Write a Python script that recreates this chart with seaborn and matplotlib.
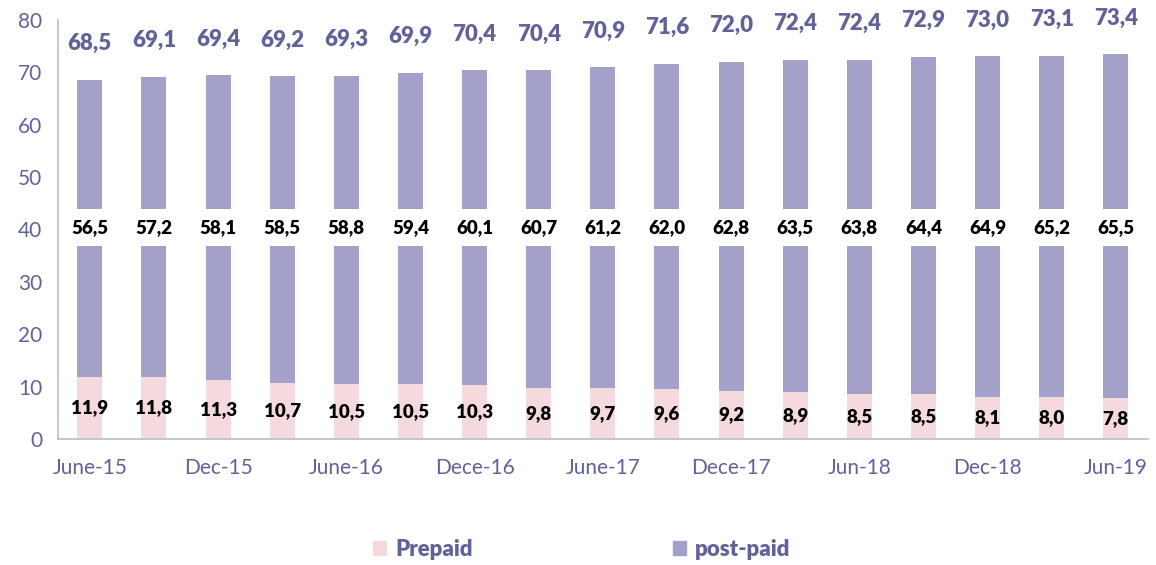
import seaborn as sns
import matplotlib.pyplot as plt
import matplotlib.patches as mpatches
from matplotlib.ticker import FixedLocator
import pandas as pd

periods = ["June-15", "Sep-15", "Dec-15", "Mar-16", "June-16", "Sep-16", "Dece-16", "Mar-17",
           "June-17", "Sep-17", "Dece-17", "Mar-18", "Jun-18", "Sep-18", "Dec-18", "Mar-19", "Jun-19"]
prepaid = [11.9, 11.8, 11.3, 10.7, 10.5, 10.5, 10.3, 9.8, 9.7, 9.6, 9.2, 8.9, 8.5, 8.5, 8.1, 8.0, 7.8]
postpaid = [56.5, 57.2, 58.1, 58.5, 58.8, 59.4, 60.1, 60.7, 61.2, 62.0, 62.8, 63.5, 63.8, 64.4, 64.9, 65.2, 65.5]
total = [68.5, 69.1, 69.4, 69.2, 69.3, 69.9, 70.4, 70.4, 70.9, 71.6, 72.0, 72.4, 72.4, 72.9, 73.0, 73.1, 73.4]

# the axis is "broken" between these two levels, post-paid value sits in the gap
break_low = 36.8
break_high = 43.8

purple = "#a3a0ca"
pink = "#f4d9dd"
label_purple = "#62629a"
axis_col = "#b3c0c8"

sns.set_style("white")
plt.rcParams['font.family'] = ['Lato', 'DejaVu Sans']

df = pd.DataFrame({"period": periods, "prepaid": prepaid, "postpaid": postpaid, "total": total})
df["low"] = break_low
df["high"] = break_high

fig = plt.figure(figsize=(11.56, 5.65), dpi=100)
ax = fig.add_axes([0.050, 0.223, 0.943, 0.742])

# layered bars: tallest first
for col, color in [("total", purple), ("high", "white"), ("low", purple), ("prepaid", pink)]:
    sns.barplot(data=df, x="period", y=col, order=periods, color=color, saturation=1,
                width=0.39, edgecolor="none", linewidth=0, ax=ax)

for i in range(len(periods)):
    ax.text(i, total[i] + 6.9, f"{total[i]:.1f}".replace(".", ","), ha="center", va="center",
            fontsize=16, fontweight="heavy", color=label_purple)
    ax.text(i, (break_low + break_high) / 2, f"{postpaid[i]:.1f}".replace(".", ","), ha="center",
            va="center", fontsize=13.5, fontweight="heavy", color="black")
    ax.text(i, prepaid[i] / 2, f"{prepaid[i]:.1f}".replace(".", ","), ha="center", va="center",
            fontsize=13.5, fontweight="heavy", color="black")

ax.set_xlim(-0.5, len(periods) - 0.5)
ax.set_ylim(0, 80)
ax.set_yticks(range(0, 81, 10))
ax.set_xticks(range(0, len(periods), 2))
ax.set_xticklabels(periods[::2])
ax.xaxis.set_minor_locator(FixedLocator([i - 0.5 for i in range(len(periods) + 1)]))
ax.tick_params(axis="x", which="major", length=0, pad=14, labelsize=15, labelcolor=label_purple)
ax.tick_params(axis="x", which="minor", length=7, width=1.2, color=axis_col, direction="out")
ax.tick_params(axis="y", length=7, width=1.2, color=axis_col, labelsize=15, labelcolor=label_purple, pad=4)
ax.set_xlabel("")
ax.set_ylabel("")

sns.despine(ax=ax, top=True, right=True)
for s in ["left", "bottom"]:
    ax.spines[s].set_color(axis_col)
    ax.spines[s].set_linewidth(1.2)

handles = [mpatches.Patch(color=pink, label="Prepaid"), mpatches.Patch(color=purple, label="post-paid")]
leg = fig.legend(handles=handles, loc="center", bbox_to_anchor=(0.503, 0.028), ncol=2, frameon=False,
                 columnspacing=9.0, handlelength=0.6, handleheight=0.6, handletextpad=0.4,
                 prop={"size": 16, "weight": "heavy"})
for t in leg.get_texts():
    t.set_color(label_purple)

fig.savefig("out.png", dpi=100)
